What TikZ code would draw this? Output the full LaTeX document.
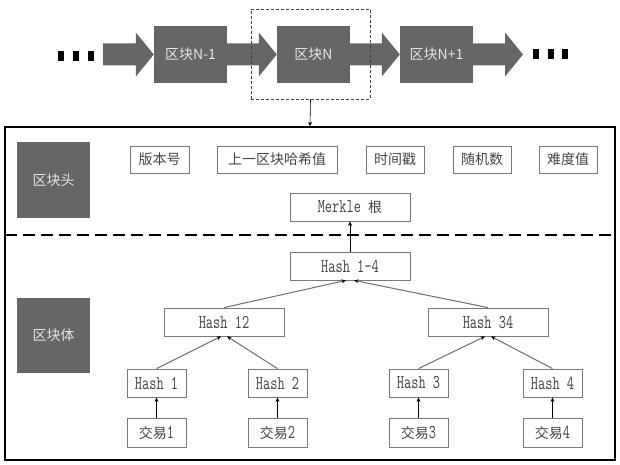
\documentclass[tikz,border=0pt]{standalone}
\usepackage{fontspec}
\usepackage{graphicx}
\newfontfamily\cjk{Noto Sans CJK SC}
\usetikzlibrary{arrows.meta,calc}
\definecolor{darkfill}{HTML}{666666}
\definecolor{boxline}{HTML}{7A7A7A}
\definecolor{txt}{HTML}{444444}
\definecolor{lighttxt}{HTML}{E4E4E4}
\definecolor{edgegray}{HTML}{6E6E6E}
\newcommand{\mono}[1]{{\fontsize{14}{15}\selectfont\ttfamily\scalebox{1}[1.4]{#1}}}
\newcommand{\chainarrow}[2]{\fill[darkfill] ($(#1)+(0,-11)$) -- ($(#2)+(-18,-11)$) -- ($(#2)+(-18,-22)$) -- (#2) -- ($(#2)+(-18,22)$) -- ($(#2)+(-18,11)$) -- ($(#1)+(0,11)$) -- cycle;}
\begin{document}
\begin{tikzpicture}[x=1pt,y=-1pt,
  blockbox/.style={fill=darkfill,draw=none,inner sep=0pt,minimum width=73,minimum height=57,text=lighttxt,font=\cjk\fontsize{14}{16}\selectfont},
  darkbox/.style={fill=darkfill,draw=none,inner sep=0pt,minimum width=73,text=lighttxt,font=\cjk\fontsize{14}{16}\selectfont},
  field/.style={draw=boxline,line width=0.8pt,fill=white,inner sep=0pt,minimum height=27,text=txt,font=\cjk\fontsize{14}{16}\selectfont},
  hashbox/.style={draw=boxline,line width=0.8pt,fill=white,inner sep=0pt,minimum height=28,text=txt},
  edge/.style={draw=edgegray,line width=1pt,-{Stealth[length=4.5pt,width=4pt,color=black]}},
  upedge/.style={draw=black,line width=0.6pt,-{Stealth[length=4.5pt,width=4pt]}},
  dotmark/.style={fill=black,draw=none}
]
\useasboundingbox (0,0) rectangle (620,465);
\fill[white] (0,0) rectangle (620,465);

% top chain
\node[blockbox] (b1) at (190.5,54.5) {区块N-1};
\node[blockbox] (b2) at (313.5,54.5) {区块N};
\node[blockbox] (b3) at (436.5,54.5) {区块N+1};
\coordinate (tailL) at (103,54.5);
\coordinate (tipR) at (523,54.5);
\chainarrow{tailL}{b1.west}
\chainarrow{b1.east}{b2.west}
\chainarrow{b2.east}{b3.west}
\chainarrow{b3.east}{tipR}
\fill[dotmark] (58,51) rectangle (64,61);
\fill[dotmark] (73,51) rectangle (79,61);
\fill[dotmark] (88,51) rectangle (94,61);
\fill[dotmark] (533,49) rectangle (539,59);
\fill[dotmark] (548,49) rectangle (554,59);
\fill[dotmark] (562,49) rectangle (568,59);

\node[draw=black!75,line width=0.8pt,dash pattern=on 3pt off 2pt,minimum width=119,minimum height=90,inner sep=0pt] (sel) at (310.5,54) {};

% main box
\node[draw=black,line width=1.6pt,minimum width=610,minimum height=333,inner sep=0pt] (main) at (310,293.5) {};
\draw[black,line width=0.6pt,-{Stealth[length=4.5pt,width=4pt]}] (sel.south) -- (main.north);

\coordinate (sepL) at (5,235);
\coordinate (sepR) at (615,235);
\draw[black,line width=2.2pt,dash pattern=on 12pt off 6pt] (sepL) -- (sepR);

% header
\node[darkbox,minimum height=76] (hdr) at (53.5,180) {区块头};
\node[field,minimum width=59] (f1) at (159.5,159.5) {版本号};
\node[field,minimum width=120] (f2) at (277,159.5) {上一区块哈希值};
\node[field,minimum width=58] (f3) at (395,159.5) {时间戳};
\node[field,minimum width=58] (f4) at (482,159.5) {随机数};
\node[field,minimum width=58] (f5) at (568,159.5) {难度值};
\node[hashbox,minimum width=120] (mk) at (350,207) {\mono{Merkle }{\cjk\fontsize{14}{16}\selectfont 根}};

% body
\node[darkbox,minimum height=75] (bdy) at (53.5,335.5) {区块体};
\node[hashbox,minimum width=120] (h14) at (350,266) {\mono{Hash 1-4}};
\node[hashbox,minimum width=120] (h12) at (224,322) {\mono{Hash 12}};
\node[hashbox,minimum width=120] (h34) at (488,322) {\mono{Hash 34}};
\node[hashbox,minimum width=59] (ha) at (156.5,383) {\mono{Hash 1}};
\node[hashbox,minimum width=59] (hb) at (277.5,383) {\mono{Hash 2}};
\node[hashbox,minimum width=59] (hc) at (418.5,383) {\mono{Hash 3}};
\node[hashbox,minimum width=59] (hd) at (552.5,383) {\mono{Hash 4}};
\node[hashbox,minimum width=59,minimum height=29] (ta) at (156.5,432.5) {{\cjk\fontsize{14}{16}\selectfont 交易}\mono{1}};
\node[hashbox,minimum width=59,minimum height=29] (tb) at (277.5,432.5) {{\cjk\fontsize{14}{16}\selectfont 交易}\mono{2}};
\node[hashbox,minimum width=59,minimum height=29] (tc) at (418.5,432.5) {{\cjk\fontsize{14}{16}\selectfont 交易}\mono{3}};
\node[hashbox,minimum width=59,minimum height=29] (td) at (552.5,432.5) {{\cjk\fontsize{14}{16}\selectfont 交易}\mono{4}};

\draw[upedge] (h14.north) -- (mk.south);
\draw[edge] (h12.north) -- ($(h14.south)+(-4,0)$);
\draw[edge] (h34.north) -- ($(h14.south)+(4,0)$);
\draw[edge] (ha.north) -- ($(h12.south)+(-3,0)$);
\draw[edge] (hb.north) -- ($(h12.south)+(3,0)$);
\draw[edge] (hc.north) -- ($(h34.south)+(-3,0)$);
\draw[edge] (hd.north) -- ($(h34.south)+(3,0)$);
\draw[upedge] (ta.north) -- (ha.south);
\draw[upedge] (tb.north) -- (hb.south);
\draw[upedge] (tc.north) -- (hc.south);
\draw[upedge] (td.north) -- (hd.south);
\end{tikzpicture}
\end{document}
